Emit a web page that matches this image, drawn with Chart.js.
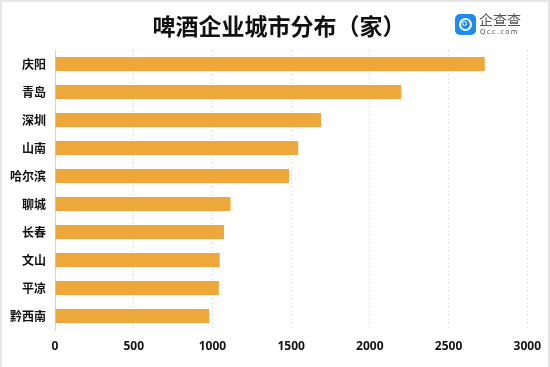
<!DOCTYPE html>
<html>
<head>
<meta charset="utf-8">
<script src="https://cdn.jsdelivr.net/npm/chart.js@4.4.1/dist/chart.umd.min.js"></script>
<style>
  html, body { margin: 0; padding: 0; background: #fff; }
  #wrap { position: relative; width: 550px; height: 367px; overflow: hidden; }
  #frame { position: absolute; left: 0; top: 0; width: 546px; height: 367px; border-left: 2px solid #e6e6e6; border-right: 2px solid #e6e6e6; border-top: 2px solid #e6e6e6; pointer-events: none; }
  canvas { position: absolute; left: 0; top: 0; }
  #title { position: absolute; left: 4px; top: 9px; width: 550px; text-align: center; font-family: "Noto Sans CJK SC", sans-serif; font-weight: bold; font-size: 23px; color: #111; line-height: 32px; }
  #logo { position: absolute; left: 455px; top: 14px; width: 80px; height: 26px; }
  #icon { position: absolute; left: 0; top: 0; width: 21px; height: 21px; border-radius: 5px; background: #1f8bf0; }
  #ring { position: absolute; left: 4px; top: 4px; width: 9px; height: 9px; border: 2px solid #fff; border-radius: 50%; }
  #ring2 { position: absolute; left: 7px; top: 7px; width: 3px; height: 3px; border: 1.5px solid #fff; border-radius: 50%; }
  #lt1 { position: absolute; left: 24px; top: -4px; font-family: "Noto Sans CJK SC", sans-serif; font-size: 14px; color: #555; letter-spacing: 0px; line-height: 18px; }
  #lt2 { position: absolute; left: 25px; top: 14px; font-family: "DejaVu Sans", sans-serif; font-size: 7px; color: #555; letter-spacing: 1.2px; line-height: 9px; }
</style>
</head>
<body>
<div id="wrap">
  <canvas id="c" width="550" height="367"></canvas>
  <div id="title">啤酒企业城市分布（家）</div>
  <div id="logo">
    <div id="icon"><div id="ring"></div><div id="ring2"></div></div>
    <div id="lt1">企查查</div>
    <div id="lt2">Qcc.com</div>
  </div>
  <div id="frame"></div>
</div>
<script>
const categories = ["庆阳", "青岛", "深圳", "山南", "哈尔滨", "聊城", "长春", "文山", "平凉", "黔西南"];
const counts = [2730, 2200, 1690, 1545, 1487, 1115, 1073, 1046, 1041, 980];
const xTicks = [0, 500, 1000, 1500, 2000, 2500, 3000];

new Chart(document.getElementById('c'), {
  type: 'bar',
  data: {
    labels: categories,
    datasets: [{
      data: counts,
      backgroundColor: '#eea73a',
      borderWidth: 0,
      barPercentage: 0.5,
      categoryPercentage: 1.0
    }]
  },
  options: {
    indexAxis: 'y',
    responsive: false,
    animation: false,
    devicePixelRatio: 1,
    layout: { padding: { top: 50, right: 19, bottom: 0, left: 0 } },
    plugins: { legend: { display: false }, title: { display: false }, tooltip: { enabled: false } },
    scales: {
      x: {
        min: xTicks[0],
        max: xTicks[xTicks.length - 1],
        afterBuildTicks: (s) => { s.ticks = xTicks.map(v => ({ value: v })); },
        afterFit: (s) => { s.height = 37; },
        grid: { color: '#e2e2e2', borderDash: [2, 2], drawTicks: false, lineWidth: 1 },
        border: { display: false, dash: [2, 2] },
        ticks: { padding: 9, color: '#111', font: { family: 'Noto Sans', weight: 'bold', size: 12 }, callback: (v) => String(v) }
      },
      y: {
        afterFit: (s) => { s.width = 55; },
        grid: { display: false, drawTicks: false },
        border: { display: true, color: '#d4d4d4', width: 1 },
        ticks: { padding: 9, color: '#111', font: { family: 'Noto Sans CJK SC', weight: 'bold', size: 12 } }
      }
    }
  }
});
</script>
</body>
</html>
